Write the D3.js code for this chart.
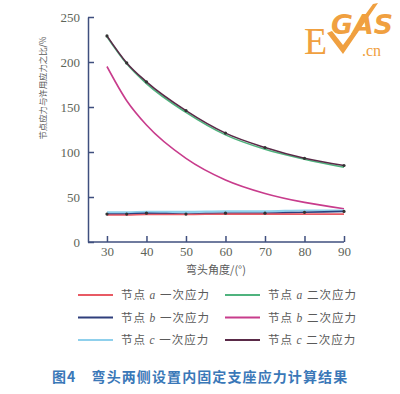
<!DOCTYPE html>
<html><head><meta charset="utf-8">
<script src="https://cdn.jsdelivr.net/npm/d3@7"></script>
<style>body{margin:0;background:#fff}svg{display:block}</style>
</head><body><svg id="c" width="400" height="394"></svg>
<script>
const angles = [30, 35, 40, 50, 60, 70, 80, 90];
const a1 = [30, 30, 30.5, 30.5, 31, 31, 31, 31];
const a2 = [228, 198, 176, 144, 119, 103, 92, 83];
const b1 = [31, 31, 32, 31, 32, 32, 33, 34];
const b2 = [195, 157, 130, 93, 69, 54, 44, 37];
const c1 = [33, 33, 33.5, 33.5, 34, 34, 35, 35];
const c2 = [229, 199, 178, 146, 121, 105, 93, 85];
const xTicks = [30, 40, 50, 60, 70, 80, 90];
const yTicks = [0, 50, 100, 150, 200, 250];
const seriesNames = ["节点 a 一次应力","节点 a 二次应力","节点 b 一次应力","节点 b 二次应力","节点 c 一次应力","节点 c 二次应力"];
const seriesColors = ["#e85a64","#4fb37e","#2f3f7c","#c83c8c","#8fd0ec","#5a2a48"];
const seriesData = [a1, a2, b1, b2, c1, c2];

const svg = d3.select("#c");
const x = d3.scaleLinear().domain([25.2, 90]).range([88, 344]);
const y = d3.scaleLinear().domain([0, 250]).range([242, 17]);
const axisColor = "#3f4f7e";
const textColor = "#5a5a5a";
const serif = "'Liberation Serif','DejaVu Serif',serif";
const cjk = "'Noto Sans CJK SC',sans-serif";

// axes
const gx = svg.append("g").attr("transform","translate(0,242)")
  .call(d3.axisBottom(x).tickValues(xTicks).tickSizeInner(-6).tickSizeOuter(0).tickPadding(5));
const gy = svg.append("g").attr("transform","translate(88,0)")
  .call(d3.axisLeft(y).tickValues(yTicks).tickSizeInner(-6).tickSizeOuter(0).tickPadding(8));
[gx, gy].forEach(g => {
  g.select(".domain").attr("stroke", axisColor).attr("stroke-width", 1.5);
  g.selectAll(".tick line").attr("stroke", axisColor).attr("stroke-width", 1.5);
  g.selectAll("text").attr("fill", "#5e6458").attr("font-family", serif).attr("font-size", 13);
});
gx.select(".domain").attr("d", "M88,0H344");

// lines
const line = d3.line().x((d,i) => x(angles[i])).y(d => y(d)).curve(d3.curveMonotoneX);
const order = [1, 5, 3, 4, 2, 0];
order.forEach(k => {
  svg.append("path").datum(seriesData[k]).attr("d", line)
    .attr("fill","none").attr("stroke", seriesColors[k]).attr("stroke-width", k===4?2.2:1.6);
});
// markers
[c2, b1].forEach(s => {
  svg.append("g").selectAll("circle").data(s).join("circle")
    .attr("cx",(d,i)=>x(angles[i])).attr("cy",d=>y(d)).attr("r",1.6).attr("fill","#333");
});

// axis titles
svg.append("text").attr("x",216).attr("y",274).attr("text-anchor","middle")
  .attr("fill",textColor).attr("font-family",cjk).attr("font-size",11)
  .text("弯头角度/(°)");
svg.append("text").attr("transform","translate(46,88) rotate(-90)").attr("text-anchor","middle")
  .attr("fill",textColor).attr("font-family",cjk).attr("font-size",8.4)
  .text("节点应力与许用应力之比/%");

// legend
const lg = svg.append("g");
seriesNames.forEach((n,i) => {
  const col = i % 2, row = Math.floor(i/2);
  const lx = col ? 225 : 78, ly = 295 + row*22.5;
  lg.append("line").attr("x1",lx).attr("x2",lx+35).attr("y1",ly).attr("y2",ly)
    .attr("stroke",seriesColors[i]).attr("stroke-width",2);
  const t = lg.append("text").attr("x",lx+43).attr("y",ly+4).attr("fill",textColor)
    .attr("font-family",cjk).attr("font-size",11.5).attr("letter-spacing",1);
  const parts = n.split(" ");
  t.append("tspan").text(parts[0]+" ");
  t.append("tspan").attr("font-style","italic").attr("font-family",serif).text(parts[1]);
  t.append("tspan").text(" "+parts[2]);
});

// caption
svg.append("text").attr("x",52).attr("y",382).attr("fill","#3a78b8")
  .attr("font-family",cjk).attr("font-size",14).attr("font-weight","bold").attr("letter-spacing",1.1)
  .text("图4　弯头两侧设置内固定支座应力计算结果");

// logo
const logo = svg.append("g").attr("fill","#f0a040");
logo.append("text").attr("x",304).attr("y",54).attr("font-family",serif).attr("font-size",38).text("E");
logo.append("text").attr("x",331).attr("y",34).attr("font-family","'DejaVu Sans',sans-serif")
  .attr("font-weight","bold").attr("font-style","italic").attr("font-size",26)
  .attr("textLength",62).attr("lengthAdjust","spacingAndGlyphs").text("GAS");
logo.append("path").attr("d","M327,33 L343,54 L378,3 L373,4 L343,45 L332,31 Z");
logo.append("text").attr("x",362).attr("y",56).attr("font-family",serif).attr("font-size",16).text(".cn");
</script></body></html>
